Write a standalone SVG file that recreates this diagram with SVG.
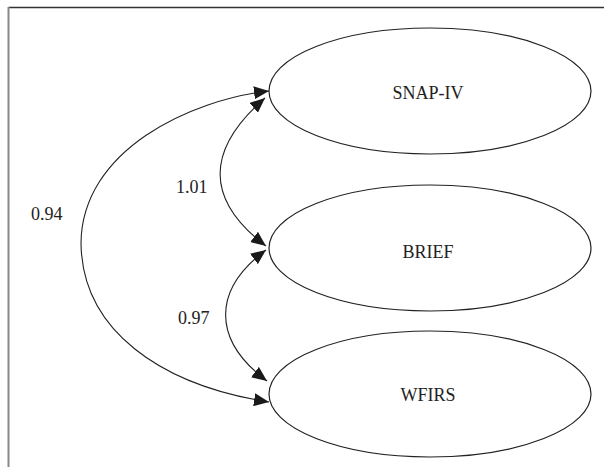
<svg xmlns="http://www.w3.org/2000/svg" width="604" height="467" viewBox="0 0 604 467">
  <style>
    .node { fill: #ffffff; stroke: #222222; stroke-width: 1.2; }
    .lbl { font-family: "Liberation Serif", "Times New Roman", serif; font-size: 18px; fill: #222222; }
    .edge { fill: none; stroke: #222222; stroke-width: 1.1; marker-start: url(#arrow); marker-end: url(#arrow); }
  </style>
  <defs>
    <marker id="arrow" viewBox="0 0 15 13" refX="15" refY="6.5" markerWidth="15" markerHeight="13" markerUnits="userSpaceOnUse" orient="auto-start-reverse">
      <path d="M0,0 L15,6.5 L0,13 z" fill="#1a1a1a"/>
    </marker>
  </defs>
  <rect x="0" y="0" width="604" height="467" fill="#ffffff"/>
  <g id="frame">
    <line x1="8.5" y1="7.5" x2="604" y2="7.5" stroke="#333333" stroke-width="1.5"/>
    <line x1="8.5" y1="7" x2="8.5" y2="467" stroke="#888888" stroke-width="2"/>
  </g>
  <g id="SNAP-IV">
    <ellipse class="node" cx="430" cy="91" rx="161" ry="63"/>
    <text class="lbl" x="428" y="99" text-anchor="middle">SNAP-IV</text>
  </g>
  <g id="BRIEF">
    <ellipse class="node" cx="430" cy="248" rx="161" ry="63"/>
    <text class="lbl" x="428" y="258" text-anchor="middle">BRIEF</text>
  </g>
  <g id="WFIRS">
    <ellipse class="node" cx="430" cy="394" rx="161" ry="63"/>
    <text class="lbl" x="428" y="401" text-anchor="middle">WFIRS</text>
  </g>
  <g id="connectors">
    <path class="edge" d="M269,91 C190,100 82,150 81,243 C82,330 160,385 269,402"/>
    <path class="edge" d="M265,98 C205,150 205,200 266,246"/>
    <path class="edge" d="M266,250 C212,290 212,340 267,381"/>
    <text class="lbl" x="31" y="220">0.94</text>
    <text class="lbl" x="176" y="193">1.01</text>
    <text class="lbl" x="178" y="324">0.97</text>
  </g>
</svg>
